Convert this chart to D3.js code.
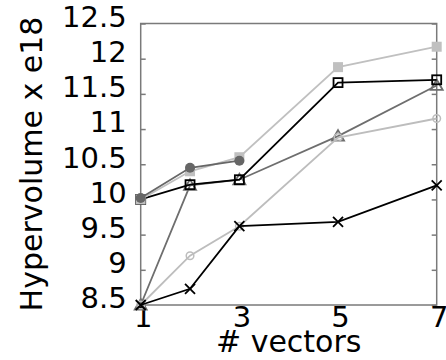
<!DOCTYPE html>
<html>
<head>
<meta charset="utf-8">
<script src="https://cdn.jsdelivr.net/npm/d3@7"></script>
<style>
  body { margin: 0; background: #fff; }
  text { font-family: "DejaVu Sans", sans-serif; fill: #000; }
</style>
</head>
<body>
<div id="chart"></div>
<script>
const width = 446;
const height = 360;

// data
const vectors = [1, 2, 3, 5, 7];
const xTicks = [1, 3, 5, 7];
const yTicks = [8.5, 9, 9.5, 10, 10.5, 11, 11.5, 12, 12.5];

const lightSquares = [10.0, 10.4, 10.6, 11.88, 12.17];
const darkCircles = [10.02, 10.45, 10.55];
const lightCircles = [8.5, 9.2, 9.62, 10.88, 11.15];
const grayTriangles = [8.5, 10.2, 10.28, 10.9, 11.62];
const blackSquares = [10.0, 10.21, 10.28, 11.66, 11.7];
const blackCrosses = [8.5, 8.73, 9.62, 9.68, 10.2];

// series in drawing order (bottom first)
const series = [
  {values: grayTriangles, color: '#6e6e6e', marker: 'otri'},
  {values: blackSquares, color: '#000000', marker: 'osquare'},
  {values: lightSquares, color: '#c0c0c0', marker: 'fsquare'},
  {values: darkCircles, color: '#666666', marker: 'fcircle'},
  {values: lightCircles, color: '#bdbdbd', marker: 'ocircle'},
  {values: blackCrosses, color: '#000000', marker: 'cross'},
];

const margin = {left: 141, right: 9, top: 23.5, bottom: 55};

const x = d3.scaleLinear()
  .domain([1, 7])
  .range([margin.left - 0.3, width - margin.right - 0.3]);

const y = d3.scaleLinear()
  .domain([8.5, 12.5])
  .range([height - margin.bottom, margin.top]);

const svg = d3.select('#chart').append('svg')
  .attr('width', width)
  .attr('height', height);

const frameColor = '#7a7a7a';

// frame
svg.append('rect')
  .attr('x', x(1))
  .attr('y', y(12.5))
  .attr('width', x(7) - x(1))
  .attr('height', y(8.5) - y(12.5))
  .attr('fill', 'none')
  .attr('stroke', frameColor)
  .attr('stroke-width', 1.5);

// left axis, ticks pointing in
const yAxis = svg.append('g')
  .attr('transform', `translate(${x(1)},0)`)
  .call(d3.axisLeft(y).tickValues(yTicks).tickSize(-5).tickPadding(14).tickFormat(d3.format('')));
yAxis.select('.domain').remove();
yAxis.selectAll('line').attr('stroke', frameColor).attr('stroke-width', 1.5);
yAxis.selectAll('text')
  .attr('dy', '0.1em')
  .style('font-size', '29px');

// right axis mirror ticks
const yAxisRight = svg.append('g')
  .attr('transform', `translate(${x(7)},0)`)
  .call(d3.axisRight(y).tickValues(yTicks).tickSize(-5).tickFormat(''));
yAxisRight.select('.domain').remove();
yAxisRight.selectAll('line').attr('stroke', frameColor).attr('stroke-width', 1.5);

// bottom axis labels
const xAxis = svg.append('g')
  .attr('transform', `translate(0,${y(8.5)})`)
  .call(d3.axisBottom(x).tickValues(xTicks).tickSize(0).tickPadding(1).tickFormat(d3.format('d')));
xAxis.select('.domain').remove();
xAxis.selectAll('text')
  .attr('dx', 2)
  .style('font-size', '29px');

// axis titles
svg.append('text')
  .attr('transform', `translate(42,164) rotate(-90)`)
  .attr('text-anchor', 'middle')
  .style('font-size', '30px')
  .text('Hypervolume x e18');

svg.append('text')
  .attr('x', (x(1) + x(7)) / 2)
  .attr('y', 352)
  .attr('text-anchor', 'middle')
  .style('font-size', '30px')
  .text('# vectors');

const line = d3.line()
  .x((d, i) => x(vectors[i]))
  .y(d => y(d));

function drawMarker(g, kind, color) {
  if (kind === 'fsquare') {
    g.append('rect').attr('x', -5).attr('y', -5).attr('width', 10).attr('height', 10)
      .attr('fill', color);
  } else if (kind === 'fcircle') {
    g.append('circle').attr('r', 5).attr('fill', color);
  } else if (kind === 'ocircle') {
    g.append('circle').attr('r', 3.8).attr('fill', 'none')
      .attr('stroke', color).attr('stroke-width', 1.5);
  } else if (kind === 'otri') {
    g.append('path').attr('d', 'M0,-6L6,4.5L-6,4.5Z').attr('fill', 'none')
      .attr('stroke', color).attr('stroke-width', 1.8);
  } else if (kind === 'osquare') {
    g.append('rect').attr('x', -4.5).attr('y', -4.5).attr('width', 9).attr('height', 9)
      .attr('fill', 'none').attr('stroke', color).attr('stroke-width', 1.8);
  } else if (kind === 'cross') {
    g.append('path').attr('d', 'M-5,-5L5,5M-5,5L5,-5').attr('fill', 'none')
      .attr('stroke', color).attr('stroke-width', 1.8);
  }
}

series.forEach(s => {
  const g = svg.append('g');
  g.append('path')
    .datum(s.values)
    .attr('d', line)
    .attr('fill', 'none')
    .attr('stroke', s.color)
    .attr('stroke-width', 1.8);
  s.values.forEach((v, i) => {
    const m = g.append('g').attr('transform', `translate(${x(vectors[i])},${y(v)})`);
    drawMarker(m, s.marker, s.color);
  });
});
</script>
</body>
</html>
